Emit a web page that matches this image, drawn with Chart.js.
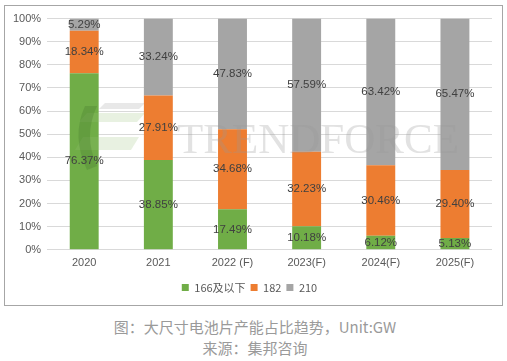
<!DOCTYPE html>
<html><head><meta charset="utf-8">
<script src="https://cdn.jsdelivr.net/npm/chart.js@4"></script>
<style>
html,body{margin:0;padding:0;background:#fff;width:507px;height:361px;overflow:hidden;font-family:"Noto Sans CJK SC","Noto Sans",sans-serif;}
#box{position:absolute;left:4px;top:5px;width:497px;height:299px;border:1px solid #a6a6a6;}
#c{position:absolute;left:5px;top:6px;}
#cap{position:absolute;left:0;top:316px;width:510px;text-align:center;color:#9a9a9a;font-size:15px;line-height:21px;}
</style></head><body>
<div id="box"></div>
<canvas id="c" width="497" height="301"></canvas>
<div id="cap">图：大尺寸电池片产能占比趋势，Unit:GW<br>来源：集邦咨询</div>
<script>
const categories = ['2020','2021','2022 (F)','2023(F)','2024(F)','2025(F)'];
const s166 = [76.37, 38.85, 17.49, 10.18, 6.12, 5.13];
const s182 = [18.34, 27.91, 34.68, 32.23, 30.46, 29.40];
const s210 = [5.29, 33.24, 47.83, 57.59, 63.42, 65.47];
const seriesNames = ['166及以下','182','210'];
const yTicks = [0,10,20,30,40,50,60,70,80,90,100];

const labelPlugin = {
  id:'lbl',
  afterDatasetsDraw(chart){
    const ctx = chart.ctx;
    ctx.save();
    // watermark (canvas offset: page x-5, y-6)
    ctx.fillStyle = 'rgba(150,150,150,0.22)';
    ctx.beginPath(); ctx.moveTo(100,97); ctx.lineTo(140,97); ctx.lineTo(134,103); ctx.lineTo(94,103); ctx.fill();
    ctx.fillStyle = 'rgba(150,190,120,0.22)';
    ctx.beginPath(); ctx.moveTo(82,107); ctx.lineTo(140,107); ctx.lineTo(132,116); ctx.lineTo(74,116); ctx.fill();
    ctx.beginPath(); ctx.moveTo(78,131); ctx.lineTo(134,131); ctx.lineTo(126,144); ctx.lineTo(70,144); ctx.fill();
    ctx.fillStyle = 'rgba(60,110,40,0.25)';
    ctx.beginPath(); ctx.moveTo(80,100); ctx.lineTo(92,100); ctx.quadraticCurveTo(78,130,92,160); ctx.lineTo(82,164); ctx.quadraticCurveTo(66,130,80,100); ctx.fill();
    ctx.font = '43px "Liberation Serif", serif';
    ctx.fillStyle = 'rgba(150,150,150,0.28)';
    ctx.textAlign = 'left';
    ctx.textBaseline = 'alphabetic';
    ctx.fillText('TRENDFORCE', 172, 147);

    ctx.font = '11.5px "Liberation Sans", sans-serif';
    ctx.fillStyle = '#404040';
    ctx.textAlign = 'center';
    ctx.textBaseline = 'middle';
    chart.data.datasets.forEach((ds,i)=>{
      const meta = chart.getDatasetMeta(i);
      meta.data.forEach((el,j)=>{
        const y = (el.y + el.base)/2;
        ctx.fillText(ds.data[j].toFixed(2)+'%', el.x, y);
      });
    });
    ctx.restore();
  }
};

new Chart(document.getElementById('c'), {
  type:'bar',
  data:{
    labels:categories,
    datasets:[
      {label:seriesNames[0], data:s166, backgroundColor:'#70ad47'},
      {label:seriesNames[1], data:s182, backgroundColor:'#ed7d31'},
      {label:seriesNames[2], data:s210, backgroundColor:'#a5a5a5'}
    ]
  },
  options:{
    responsive:false, animation:false,
    layout:{padding:{left:2,right:10,top:10,bottom:4}},
    datasets:{bar:{barPercentage:0.39,categoryPercentage:1.0}},
    scales:{
      x:{stacked:true, grid:{display:false, drawTicks:false}, border:{display:false},
         ticks:{color:'#595959', font:{size:11, family:'"Liberation Sans", sans-serif'}, padding:7}},
      y:{stacked:true, min:0, max:100,
         afterBuildTicks(ax){ax.ticks = yTicks.map(v=>({value:v}));},
         grid:{color:'#d9d9d9', drawTicks:false}, border:{display:false},
         ticks:{color:'#595959', padding:6, font:{size:11, family:'"Liberation Sans", sans-serif'}, callback:v=>v+'%'}}
    },
    plugins:{
      legend:{position:'bottom', labels:{boxWidth:7, boxHeight:7, padding:5, color:'#595959', font:{size:11, family:'"Noto Sans CJK SC", sans-serif'}}},
      tooltip:{enabled:false}
    }
  },
  plugins:[labelPlugin]
});
</script>
</body></html>
